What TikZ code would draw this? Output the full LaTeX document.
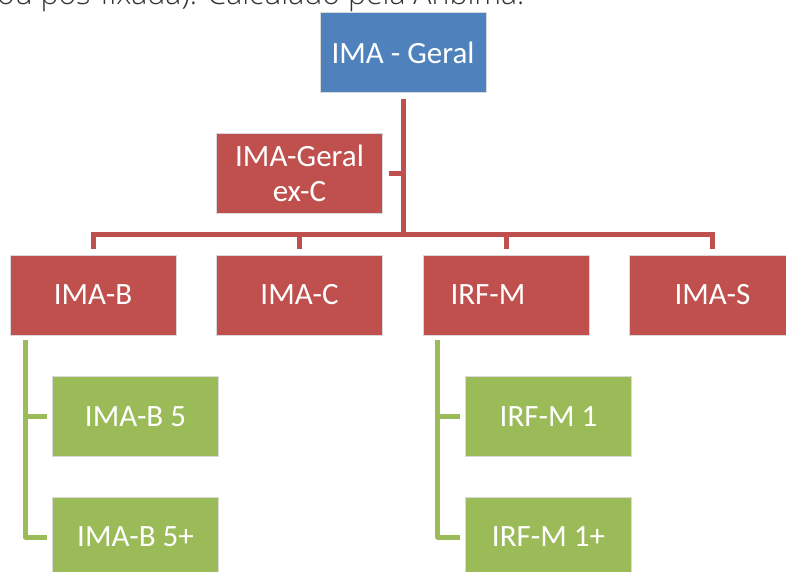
\documentclass[tikz,border=0pt]{standalone}
\usepackage{fontspec}
\setmainfont{Carlito}
\newfontfamily\topfont{Open Sans Light}
\definecolor{bluefill}{HTML}{4F81BD}
\definecolor{redfill}{HTML}{C0504D}
\definecolor{greenfill}{HTML}{9BBB59}
\begin{document}
\begin{tikzpicture}[x=1pt,y=-1pt,
  box/.style={rectangle, minimum width=166pt, minimum height=80pt, inner sep=0pt,
    text=white, font=\fontsize{31}{35}\selectfont, draw=white!85!black, line width=0.4pt, align=center},
  bluebox/.style={box, fill=bluefill},
  redbox/.style={box, fill=redfill},
  greenbox/.style={box, fill=greenfill},
  redline/.style={draw=redfill, line width=5pt},
  greenline/.style={draw=greenfill, line width=5pt, line join=round}]
\useasboundingbox (0,0) rectangle (786,571);
\clip (0,0) rectangle (786,571);
\node[anchor=base west, inner sep=0pt, text=black!80, font=\topfont\fontsize{30.3}{33}\selectfont] (cap) at (-3,4) {ou pós-fixada). Calculado pela Anbima.};
\node[bluebox] (top) at (403,52.5) {IMA - Geral};
\node[redbox] (exc) at (299.5,173.5) {IMA-Geral\\ex-C};
\node[redbox] (imab) at (93,295) {IMA-B};
\node[redbox] (imac) at (299.5,295) {IMA-C};
\node[redbox] (irfm) at (506,295) {\hspace*{-36pt}IRF-M};
\node[redbox] (imas) at (712.5,295) {IMA-S};
\node[greenbox] (imab5) at (135.5,416.5) {IMA-B 5};
\node[greenbox] (imab5p) at (135.5,537) {IMA-B 5+};
\node[greenbox] (irfm1) at (548.5,416.5) {IRF-M 1};
\node[greenbox] (irfm1p) at (548.5,537) {IRF-M 1+};
% red connectors
\coordinate (hub) at ([yshift=20pt]top.south |- imab.north);
\draw[redline] ([yshift=-6pt]top.south) -- (hub);
\draw[redline] ([xshift=6pt]exc.east) -- (exc.east -| top.south);
\draw[redline] ([yshift=6pt]imab.north) |- ([yshift=20pt]imas.north) -- ([yshift=6pt]imas.north);
\draw[redline] ([yshift=6pt]imac.north) -- ([yshift=20pt]imac.north);
\draw[redline] ([yshift=6pt]irfm.north) -- ([yshift=20pt]irfm.north);
% green connectors
\coordinate (gb) at ([xshift=15.5pt,yshift=-5pt]imab.south west);
\coordinate (gr) at ([xshift=15pt,yshift=-5pt]irfm.south west);
\draw[greenline] (gb) |- ([xshift=-5pt]imab5p.west);
\draw[greenline] (gb |- imab5.west) -- ([xshift=-5pt]imab5.west);
\draw[greenline] (gr) |- ([xshift=-5pt]irfm1p.west);
\draw[greenline] (gr |- irfm1.west) -- ([xshift=-5pt]irfm1.west);
\end{tikzpicture}
\end{document}
